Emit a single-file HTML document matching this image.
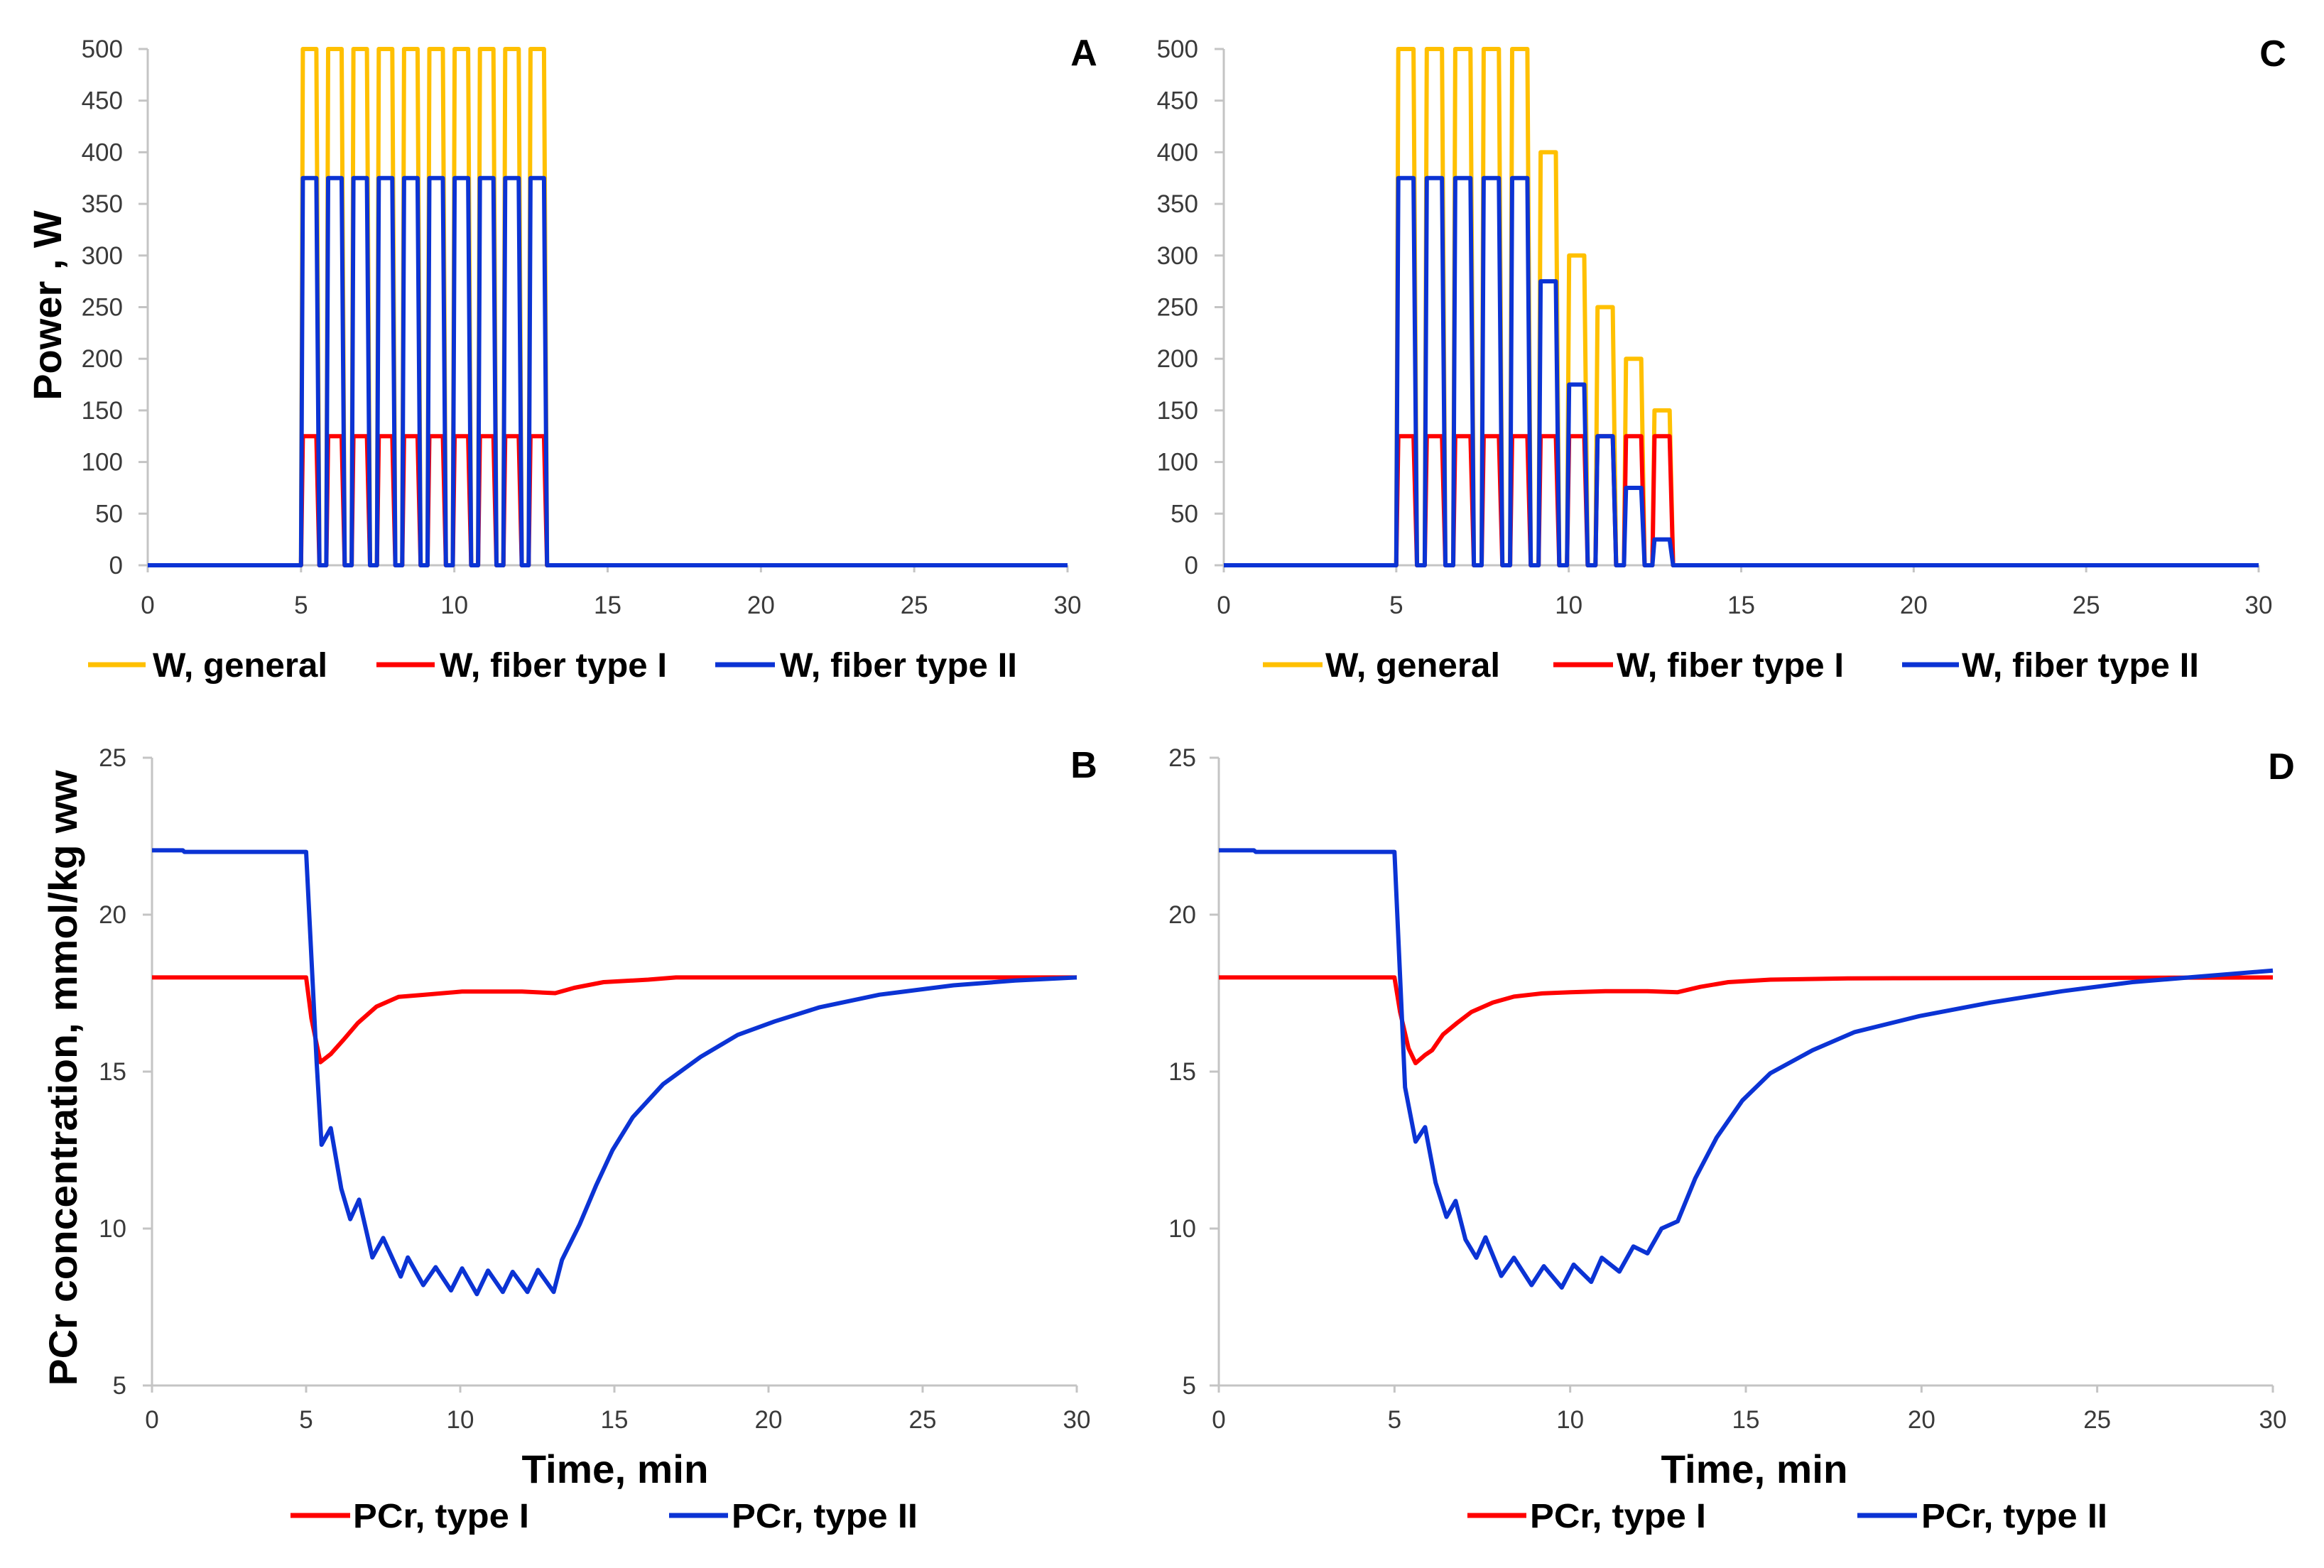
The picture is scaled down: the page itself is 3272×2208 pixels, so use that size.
<!DOCTYPE html>
<html><head><meta charset="utf-8"><style>
html,body{margin:0;padding:0;background:#fff;}
svg{display:block;}
text{font-family:"Liberation Sans",sans-serif;}
</style></head><body>
<svg id="fig" width="3272" height="2208" viewBox="0 0 3272 2208" xmlns="http://www.w3.org/2000/svg">
<rect x="0" y="0" width="3272" height="2208" fill="#fff"/>
<g id="layer"></g>
</svg>
<script>
// ---- data ----
const powerTicks = [0,50,100,150,200,250,300,350,400,450,500];
const pcrTicks = [5,10,15,20,25];
const timeTicks = [0,5,10,15,20,25,30];
const pulseStarts = [5.0,5.825,6.65,7.475,8.3,9.125,9.95,10.775,11.6,12.425];
const aGeneral = [500,500,500,500,500,500,500,500,500,500];
const aTypeI = [125,125,125,125,125,125,125,125,125,125];
const aTypeII = [375,375,375,375,375,375,375,375,375,375];
const cGeneral = [500,500,500,500,500,400,300,250,200,150];
const cTypeI = [125,125,125,125,125,125,125,125,125,125];
const cTypeII = [375,375,375,375,375,275,175,125,75,25];
const bRedT = [0,5,5.17,5.46,5.8,6.2,6.67,7.28,8.0,8.85,10.06,12.0,13.08,13.7,14.65,16.1,17,30];
const bRedV = [18,18,16.7,15.3,15.56,16.0,16.54,17.07,17.38,17.45,17.55,17.55,17.5,17.67,17.85,17.93,18,18];
const bBlueT = [0,1,1.05,5,5.34,5.5,5.8,6.14,6.43,6.72,7.15,7.5,8.07,8.3,8.8,9.2,9.7,10.06,10.54,10.9,11.38,11.7,12.18,12.52,13.03,13.3,13.87,14.4,14.94,15.6,16.58,17.8,19.0,20.2,21.66,23.6,26.0,28.0,30];
const bBlueV = [22.05,22.05,22.0,22.0,15.3,12.67,13.2,11.27,10.3,10.92,9.08,9.7,8.47,9.08,8.2,8.77,8.03,8.73,7.91,8.66,7.98,8.62,7.98,8.68,7.98,9.0,10.13,11.36,12.5,13.55,14.6,15.47,16.17,16.6,17.05,17.45,17.75,17.9,18.0];
const dRedT = [0,5,5.16,5.4,5.6,5.87,6.07,6.38,6.78,7.19,7.8,8.4,9.2,10.0,11.0,12.2,13.06,13.7,14.5,15.7,17.9,30];
const dRedV = [18,18,16.9,15.74,15.27,15.53,15.68,16.18,16.55,16.9,17.2,17.39,17.49,17.53,17.56,17.56,17.53,17.7,17.85,17.93,17.97,18];
const dBlueT = [0,1,1.05,5,5.3,5.6,5.87,6.17,6.48,6.74,7.02,7.33,7.59,8.04,8.4,8.9,9.25,9.76,10.1,10.6,10.9,11.4,11.8,12.2,12.6,13.06,13.56,14.17,14.9,15.7,16.9,18.1,19.94,21.96,24.0,26.0,28.04,30];
const dBlueV = [22.05,22.05,22.0,22.0,14.5,12.77,13.23,11.46,10.37,10.88,9.65,9.07,9.72,8.49,9.07,8.2,8.8,8.12,8.85,8.3,9.07,8.63,9.43,9.21,10.0,10.23,11.6,12.9,14.08,14.95,15.68,16.26,16.77,17.2,17.56,17.85,18.04,18.22];

const NS = "http://www.w3.org/2000/svg";
const layer = document.getElementById('layer');
function mk(tag, attrs, parent){
  const e = document.createElementNS(NS, tag);
  for (const k in attrs) e.setAttribute(k, attrs[k]);
  (parent||layer).appendChild(e);
  return e;
}
const YEL="#FFC000", RED="#FF0000", BLUE="#0B33D4", AX="#c4c4c4", TXT="#3a3a3a";

function makePanel(p){
  const g = mk('g', {});
  
  
  const sx = t => p.x0 + (t - 0) / 30 * (p.x1 - p.x0);
  const sy = v => p.yb + (v - p.vmin) / (p.vmax - p.vmin) * (p.yt - p.yb);
  const yax = mk('line', {x1:p.x0, y1:p.yt, x2:p.x0, y2:p.yb, stroke:AX, 'stroke-width':3}, g);
  
  
  const xax = mk('line', {x1:p.x0, y1:p.yb, x2:p.x1, y2:p.yb, stroke:AX, 'stroke-width':3}, g);
  
  
  p.yticks.forEach(v => {
    const y = sy(v);
    mk('line', {x1:p.x0-13, y1:y, x2:p.x0, y2:y, stroke:AX, 'stroke-width':3}, g);
    const t = mk('text', {x:p.ylx, y:y+12, 'text-anchor':'end', 'font-size':35, fill:TXT}, g);
    t.textContent = v;
    
    
  });
  timeTicks.forEach(v => {
    const x = sx(v);
    mk('line', {x1:x, y1:p.yb, x2:x, y2:p.yb+10, stroke:AX, 'stroke-width':3}, g);
    const t = mk('text', {x:x, y:p.xly+13, 'text-anchor':'middle', 'font-size':35, fill:TXT}, g);
    t.textContent = v;
    
    
  });
  p.series.forEach(s => {
    let d = '';
    s.t.forEach((t,i) => { d += (i ? 'L' : 'M') + sx(t).toFixed(1) + ',' + sy(s.v[i]).toFixed(1); });
    const path = mk('path', {d:d, fill:'none', stroke:s.color, 'stroke-width':6, 'stroke-linejoin':'round'}, g);
    
    
  });
  const lab = mk('text', {x:p.lab[0], y:p.lab[1]+18, 'text-anchor':'middle', 'font-size':52, 'font-weight':'bold', fill:'#000'}, g);
  lab.textContent = p.id.toUpperCase();
  
  
  p.legend.forEach(L => {
    const lg = mk('g', {}, g);
    
    
    mk('line', {x1:L.x1, y1:p.legY, x2:L.x2, y2:p.legY, stroke:L.color, 'stroke-width':7}, lg);
    const t = mk('text', {x:L.tx, y:p.legY+17, 'font-size':48, 'font-weight':'bold', fill:'#000', textLength:L.w, lengthAdjust:'spacingAndGlyphs'}, lg);
    t.textContent = L.label;
  });
}
function pulses(amps){
  const t=[0], v=[0];
  pulseStarts.forEach((s,i) => {
    t.push(s, s+0.06, s+0.5, s+0.6); v.push(0, amps[i], amps[i], 0);
  });
  t.push(30); v.push(0);
  return {t, v};
}
function pSeries(g, r, b){
  const G=pulses(g), R=pulses(r), B=pulses(b);
  return [
    {t:G.t, v:G.v, color:YEL, name:'w-general-line'},
    {t:R.t, v:R.v, color:RED, name:'w-fiber-type-i-line'},
    {t:B.t, v:B.v, color:BLUE, name:'w-fiber-type-ii-line'}];
}
makePanel({id:'a', x0:208, x1:1503, yt:69, yb:796, vmin:0, vmax:500, yticks:powerTicks, ylx:173, xly:851,
  series:pSeries(aGeneral,aTypeI,aTypeII), lab:[1526,74], legY:936,
  legend:[{x1:124,x2:205,tx:215,w:246,color:YEL,label:'W, general'},
          {x1:530,x2:612,tx:619,w:320,color:RED,label:'W, fiber type I'},
          {x1:1007,x2:1091,tx:1098,w:334,color:BLUE,label:'W, fiber type II'}]});
makePanel({id:'c', x0:1723, x1:3180, yt:69, yb:796, vmin:0, vmax:500, yticks:powerTicks, ylx:1687, xly:851,
  series:pSeries(cGeneral,cTypeI,cTypeII), lab:[3200,75], legY:936,
  legend:[{x1:1778,x2:1862,tx:1866,w:246,color:YEL,label:'W, general'},
          {x1:2187,x2:2271,tx:2276,w:320,color:RED,label:'W, fiber type I'},
          {x1:2678,x2:2758,tx:2762,w:334,color:BLUE,label:'W, fiber type II'}]});
makePanel({id:'b', x0:214, x1:1516, yt:1067, yb:1951, vmin:5, vmax:25, yticks:pcrTicks, ylx:178, xly:1998,
  series:[{t:bRedT,v:bRedV,color:RED,name:'pcr-type-i-line'},{t:bBlueT,v:bBlueV,color:BLUE,name:'pcr-type-ii-line'}],
  lab:[1526,1077], legY:2134,
  legend:[{x1:409,x2:493,tx:497,w:248,color:RED,label:'PCr, type I'},
          {x1:942,x2:1025,tx:1030,w:262,color:BLUE,label:'PCr, type II'}]});
makePanel({id:'d', x0:1716, x1:3200, yt:1067, yb:1951, vmin:5, vmax:25, yticks:pcrTicks, ylx:1684, xly:1998,
  series:[{t:dRedT,v:dRedV,color:RED,name:'pcr-type-i-line'},{t:dBlueT,v:dBlueV,color:BLUE,name:'pcr-type-ii-line'}],
  lab:[3212,1079], legY:2134,
  legend:[{x1:2066,x2:2149,tx:2154,w:248,color:RED,label:'PCr, type I'},
          {x1:2615,x2:2699,tx:2705,w:262,color:BLUE,label:'PCr, type II'}]});

let t;
t = mk('text', {x:0, y:0, transform:'translate(86,430) rotate(-90)', 'text-anchor':'middle', 'font-size':56, 'font-weight':'bold', fill:'#000'});
t.textContent = 'Power , W';


t = mk('text', {x:0, y:0, transform:'translate(108,1518) rotate(-90)', 'text-anchor':'middle', 'font-size':56, 'font-weight':'bold', fill:'#000', textLength:867, lengthAdjust:'spacingAndGlyphs'});
t.textContent = 'PCr concentration, mmol/kg ww';


t = mk('text', {x:866, y:2088, 'text-anchor':'middle', 'font-size':56, 'font-weight':'bold', fill:'#000', textLength:263, lengthAdjust:'spacingAndGlyphs'});
t.textContent = 'Time, min';


t = mk('text', {x:2470, y:2088, 'text-anchor':'middle', 'font-size':56, 'font-weight':'bold', fill:'#000', textLength:263, lengthAdjust:'spacingAndGlyphs'});
t.textContent = 'Time, min';


</script>
</body></html>
